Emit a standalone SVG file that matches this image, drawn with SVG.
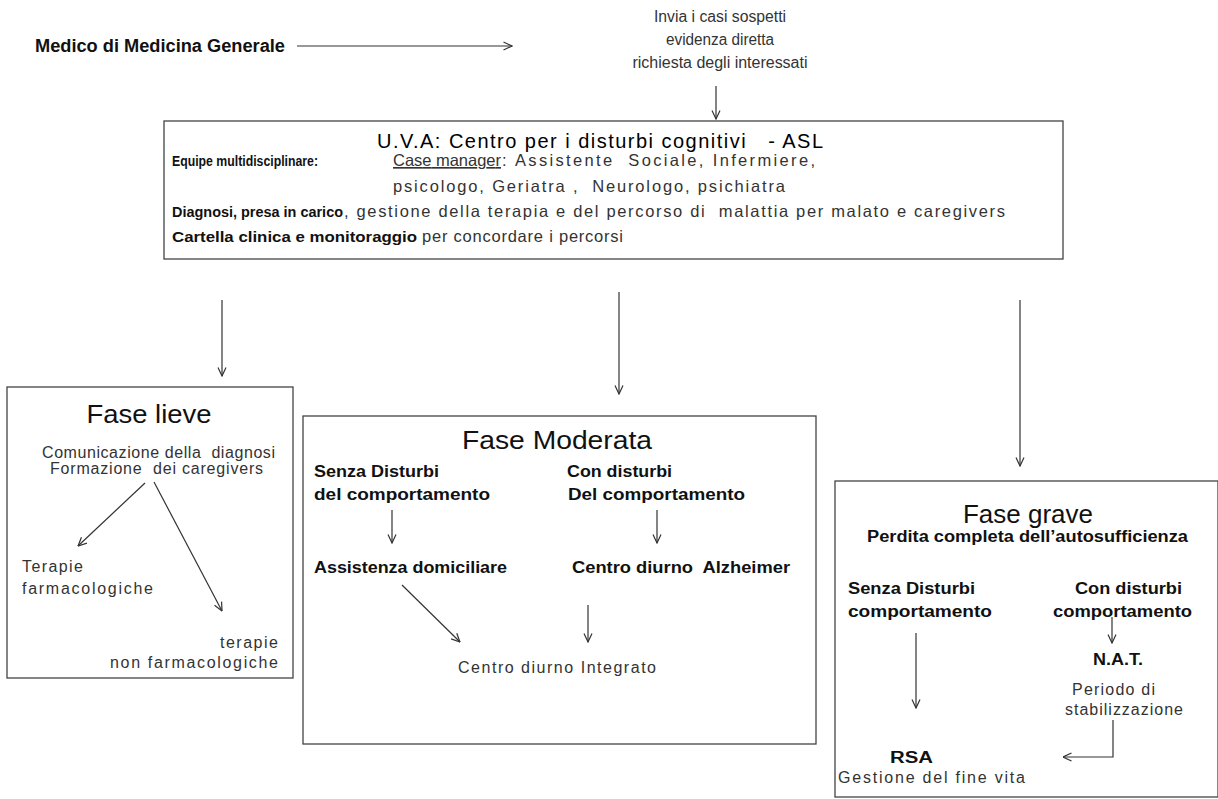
<svg xmlns="http://www.w3.org/2000/svg" width="1218" height="799" viewBox="0 0 1218 799">
<defs>
<marker id="ah" viewBox="0 0 10 10" refX="9.5" refY="5" markerWidth="10" markerHeight="10" markerUnits="userSpaceOnUse" orient="auto">
<path d="M1,1 L9.5,5 L1,9" fill="none" stroke="#333" stroke-width="1.2"/>
</marker>
</defs>
<style>
text{font-family:"Liberation Sans",Arial,sans-serif;white-space:pre;}
.r{font-size:16px;fill:#333;}
.u{font-size:16.5px;fill:#333;}
.b{font-size:16px;font-weight:bold;fill:#111;}
.ub{font-size:14px;font-weight:bold;fill:#111;}
.t{font-size:26px;fill:#111;}
.box{fill:#fff;stroke:#444;stroke-width:1.3;}
.c line,.c path{stroke:#333;stroke-width:1.2;fill:none;marker-end:url(#ah);}
</style>
<rect width="1218" height="799" fill="#fff"/>

<g id="mmg">
<text class="b" x="35" y="52" style="font-size:17.5px" textLength="250" lengthAdjust="spacingAndGlyphs">Medico di Medicina Generale</text>
</g>

<g id="invio">
<text class="r" x="720" y="22" text-anchor="middle" textLength="132" lengthAdjust="spacingAndGlyphs">Invia i casi sospetti</text>
<text class="r" x="720" y="45" text-anchor="middle" textLength="108" lengthAdjust="spacingAndGlyphs">evidenza diretta</text>
<text class="r" x="720" y="68" text-anchor="middle" textLength="175" lengthAdjust="spacingAndGlyphs">richiesta degli interessati</text>
</g>

<g id="uva">
<rect class="box" x="164" y="121" width="899" height="138"/>
<text x="377" y="148" style="font-size:20px;fill:#000" textLength="446" lengthAdjust="spacing">U.V.A: Centro per i disturbi cognitivi   - ASL</text>
<text class="ub" x="172" y="166" textLength="146" lengthAdjust="spacingAndGlyphs">Equipe multidisciplinare:</text>
<text class="u" x="393" y="166" text-decoration="underline" textLength="108" lengthAdjust="spacing">Case manager</text>
<text class="u" x="502" y="166" textLength="313" lengthAdjust="spacing">: Assistente  Sociale, Infermiere,</text>
<text class="u" x="393" y="192" textLength="392" lengthAdjust="spacing">psicologo, Geriatra ,  Neurologo, psichiatra</text>
<text class="ub" x="172" y="217" textLength="171" lengthAdjust="spacingAndGlyphs">Diagnosi, presa in carico</text>
<text class="u" x="344" y="217" textLength="661" lengthAdjust="spacing">, gestione della terapia e del percorso di  malattia per malato e caregivers</text>
<text class="ub" x="172" y="242" textLength="245" lengthAdjust="spacingAndGlyphs">Cartella clinica e monitoraggio</text>
<text class="u" x="422" y="242" textLength="201" lengthAdjust="spacing">per concordare i percorsi</text>
</g>

<g id="fase-lieve">
<rect class="box" x="7" y="387" width="286" height="291"/>
<text class="t" x="149" y="423" text-anchor="middle" textLength="125" lengthAdjust="spacingAndGlyphs">Fase lieve</text>
<text class="r" x="42" y="458" textLength="233" lengthAdjust="spacing">Comunicazione della  diagnosi</text>
<text class="r" x="50" y="474" textLength="213" lengthAdjust="spacing">Formazione  dei caregivers</text>
<text class="r" x="22" y="572" textLength="61" lengthAdjust="spacing">Terapie</text>
<text class="r" x="22" y="594" textLength="131" lengthAdjust="spacing">farmacologiche</text>
<text class="r" x="278" y="648" text-anchor="end" textLength="58" lengthAdjust="spacing">terapie</text>
<text class="r" x="278" y="668" text-anchor="end" textLength="168" lengthAdjust="spacing">non farmacologiche</text>
</g>

<g id="fase-moderata">
<rect class="box" x="303" y="416" width="513" height="328"/>
<text class="t" x="557" y="449" text-anchor="middle" textLength="190" lengthAdjust="spacingAndGlyphs">Fase Moderata</text>
<text class="b" x="314" y="477" textLength="125" lengthAdjust="spacingAndGlyphs">Senza Disturbi</text>
<text class="b" x="314" y="500" textLength="176" lengthAdjust="spacingAndGlyphs">del comportamento</text>
<text class="b" x="567" y="477" textLength="105" lengthAdjust="spacingAndGlyphs">Con disturbi</text>
<text class="b" x="568" y="500" textLength="177" lengthAdjust="spacingAndGlyphs">Del comportamento</text>
<text class="b" x="314" y="573" textLength="193" lengthAdjust="spacingAndGlyphs">Assistenza domiciliare</text>
<text class="b" x="572" y="573" textLength="218" lengthAdjust="spacingAndGlyphs">Centro diurno  Alzheimer</text>
<text class="r" x="458" y="673" textLength="198" lengthAdjust="spacing">Centro diurno Integrato</text>
</g>

<g id="fase-grave">
<rect class="box" x="835" y="481" width="383" height="316"/>
<text class="t" x="1028" y="523" text-anchor="middle" textLength="130" lengthAdjust="spacingAndGlyphs">Fase grave</text>
<text class="b" x="867" y="542" textLength="321" lengthAdjust="spacingAndGlyphs">Perdita completa dell’autosufficienza</text>
<text class="b" x="848" y="594" textLength="127" lengthAdjust="spacingAndGlyphs">Senza Disturbi</text>
<text class="b" x="848" y="617" textLength="144" lengthAdjust="spacingAndGlyphs">comportamento</text>
<text class="b" x="1075" y="594" textLength="107" lengthAdjust="spacingAndGlyphs">Con disturbi</text>
<text class="b" x="1053" y="617" textLength="139" lengthAdjust="spacingAndGlyphs">comportamento</text>
<text class="b" x="1093" y="665" textLength="50" lengthAdjust="spacingAndGlyphs">N.A.T.</text>
<text class="r" x="1072" y="695" textLength="83" lengthAdjust="spacing">Periodo di</text>
<text class="r" x="1065" y="715" textLength="118" lengthAdjust="spacing">stabilizzazione</text>
<text class="b" x="890" y="763" textLength="43" lengthAdjust="spacingAndGlyphs">RSA</text>
<text class="r" x="838" y="783" textLength="187" lengthAdjust="spacing">Gestione del fine vita</text>
</g>

<g id="connectors" class="c">
<line x1="297" y1="46" x2="512" y2="46"/>
<line x1="716" y1="86" x2="716" y2="119"/>
<line x1="222" y1="300" x2="222" y2="376"/>
<line x1="619" y1="292" x2="619" y2="394"/>
<line x1="1020" y1="300" x2="1020" y2="466"/>
<line x1="145" y1="483" x2="78" y2="546"/>
<line x1="154" y1="482" x2="222" y2="611"/>
<line x1="392" y1="510" x2="392" y2="543"/>
<line x1="657" y1="510" x2="657" y2="543"/>
<line x1="402" y1="585" x2="460" y2="642"/>
<line x1="588" y1="605" x2="588" y2="642"/>
<line x1="916" y1="633" x2="916" y2="708"/>
<line x1="1112" y1="617" x2="1112" y2="643"/>
<path d="M1113,720 L1113,757 L1063,757"/>
</g>
</svg>
